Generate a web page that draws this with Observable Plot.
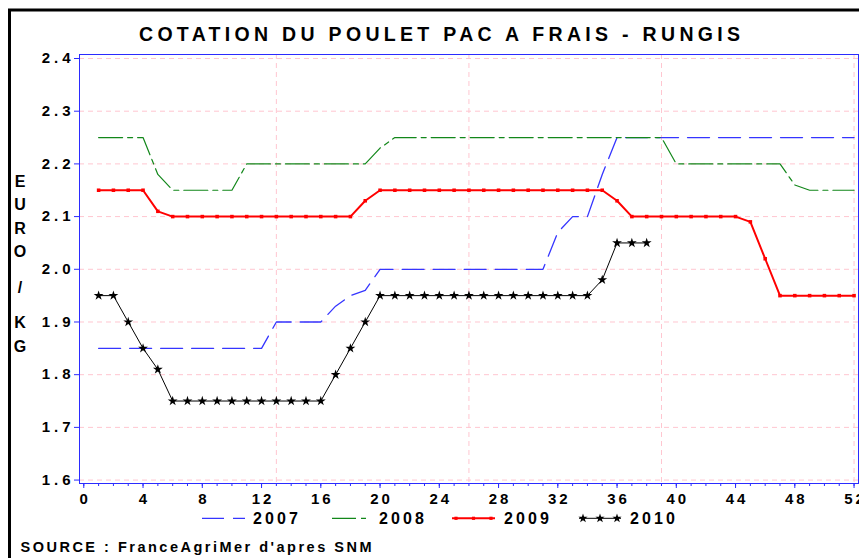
<!DOCTYPE html>
<html><head><meta charset="utf-8">
<script src="https://cdn.jsdelivr.net/npm/d3@7"></script>
<script src="https://cdn.jsdelivr.net/npm/@observablehq/plot@0.6"></script>
<style>
html,body{margin:0;padding:0;background:#fff;overflow:hidden}
#chart svg{display:block;overflow:hidden}
</style>
</head><body><div id="chart"></div>
<script>
// ---- text ----
const title = "COTATION DU POULET PAC A FRAIS - RUNGIS";
const yLabel = "EURO / KG";
const source = "SOURCE : FranceAgriMer d'apres SNM";

// ---- data ----
const years = ["2007", "2008", "2009", "2010"];
const y2007 = [1.85,1.85,1.85,1.85,1.85,1.85,1.85,1.85,1.85,1.85,1.85,1.85,
  1.90,1.90,1.90,1.90,1.93,1.95,1.96,
  2.00,2.00,2.00,2.00,2.00,2.00,2.00,2.00,2.00,2.00,2.00,2.00,
  2.07,2.10,2.10,2.18,
  2.25,2.25,2.25,2.25,2.25,2.25,2.25,2.25,2.25,2.25,2.25,2.25,2.25,2.25,2.25,2.25,2.25];
const y2008 = [2.25,2.25,2.25,2.25,2.18,
  2.15,2.15,2.15,2.15,2.15,
  2.20,2.20,2.20,2.20,2.20,2.20,2.20,2.20,2.20,2.23,
  2.25,2.25,2.25,2.25,2.25,2.25,2.25,2.25,2.25,2.25,2.25,2.25,2.25,2.25,2.25,2.25,2.25,2.25,2.25,
  2.20,2.20,2.20,2.20,2.20,2.20,2.20,2.20,2.16,
  2.15,2.15,2.15,2.15];
const y2009 = [2.15,2.15,2.15,2.15,2.11,
  2.10,2.10,2.10,2.10,2.10,2.10,2.10,2.10,2.10,2.10,2.10,2.10,2.10,2.13,
  2.15,2.15,2.15,2.15,2.15,2.15,2.15,2.15,2.15,2.15,2.15,2.15,2.15,2.15,2.15,2.15,
  2.13,2.10,2.10,2.10,2.10,2.10,2.10,2.10,2.10,2.09,2.02,
  1.95,1.95,1.95,1.95,1.95,1.95];
const y2010 = [1.95,1.95,1.90,1.85,1.81,
  1.75,1.75,1.75,1.75,1.75,1.75,1.75,1.75,1.75,1.75,1.75,
  1.80,1.85,1.90,
  1.95,1.95,1.95,1.95,1.95,1.95,1.95,1.95,1.95,1.95,1.95,1.95,1.95,1.95,1.95,
  1.98,2.05,2.05,2.05];
const yTicks = [1.6,1.7,1.8,1.9,2.0,2.1,2.2,2.3,2.4];
const xTicks = [0,4,8,12,16,20,24,28,32,36,40,44,48,52];
const xGrid = [13,26,39,52];

// ---- styles ----
const W = 859, H = 558;
const styleOf = {
  "2007": {stroke: "#3535ff", width: 1.3, dash: "22,9", dashLegendOffset: 0, symbol: null},
  "2008": {stroke: "#12871a", width: 1.2, dash: "24,5,5,5", dashLegendOffset: 34, symbol: null},
  "2009": {stroke: "#ff0000", width: 2, dash: null, symbol: "square", r: 2, legendR: 1.8},
  "2010": {stroke: "#000000", width: 1, dash: null, symbol: "star", r: 3.1, legendR: 2.9}
};
const blue = "#2b2bff";
const gridColor = "#ffc6d0";
const FONT = "'Liberation Sans', Arial, sans-serif";

const valuesOf = {"2007": y2007, "2008": y2008, "2009": y2009, "2010": y2010};
const rowsOf = {};
for (const yr of years) rowsOf[yr] = valuesOf[yr].map((v, i) => ({year: yr, week: i + 1, price: v}));

const minorTicks = d3.range(0, 53);

const marks = [
  Plot.gridY(yTicks, {stroke: gridColor, strokeOpacity: 1, strokeDasharray: "5,4"}),
  Plot.gridX(xGrid, {stroke: gridColor, strokeOpacity: 1, strokeDasharray: "5,4"}),
];
for (const yr of years) {
  const s = styleOf[yr];
  marks.push(Plot.line(rowsOf[yr], {x: "week", y: "price", stroke: s.stroke, strokeWidth: s.width,
    strokeDasharray: s.dash || undefined}));
  if (s.symbol) marks.push(Plot.dot(rowsOf[yr], {x: "week", y: "price", symbol: s.symbol, r: s.r, fill: s.stroke, stroke: "none"}));
}
marks.push(
  Plot.frame({stroke: blue}),
  Plot.axisY(yTicks, {tickSize: 5, stroke: blue, fill: "black", tickPadding: 4, tickFormat: d3.format(".1f"),
    fontSize: 15, fontWeight: "bold", label: null}),
  Plot.axisX(minorTicks, {tickSize: 3, stroke: blue, tickFormat: () => "", label: null}),
  Plot.axisX(xTicks, {tickSize: 5, stroke: blue, fill: "black", tickPadding: 5, tickFormat: d => String(d),
    fontSize: 15, fontWeight: "bold", label: null})
);

const chart = Plot.plot({
  width: W, height: H,
  marginLeft: 79, marginTop: 54, marginRight: 1, marginBottom: 75,
  x: {domain: [-0.29, 52.3]},
  y: {domain: [1.5935, 2.4076]},
  style: {fontFamily: FONT, background: "white", overflow: "hidden"},
  marks
});
document.getElementById("chart").appendChild(chart);

const svg = d3.select(chart);
// letter-spaced tick labels
svg.selectAll('[aria-label="y-axis tick label"] text').attr("letter-spacing", 4).attr("dx", 4);
svg.selectAll('[aria-label="x-axis tick label"] text').attr("letter-spacing", 3).attr("dx", 1.5);

// title
svg.append("text").attr("x", 439.5).attr("y", 40.7).attr("text-anchor", "middle")
  .attr("font-family", FONT).attr("font-weight", "bold").attr("font-size", 19.5)
  .attr("textLength", 601).attr("lengthAdjust", "spacing").text(title);

// vertical y label
{
  let yy = 186.7;
  for (const ch of yLabel) {
    if (ch === " ") { yy += 12; continue; }
    svg.append("text").attr("x", 20).attr("y", yy).attr("text-anchor", "middle")
      .attr("font-family", FONT).attr("font-weight", "bold").attr("font-size", 16).text(ch);
    yy += 23.5;
  }
}

// legend
const legendX = {"2007": [202, 245, 253], "2008": [327, 370, 379], "2009": [452, 495, 504], "2010": [579, 621, 630]};
const legendY = 518.3;
for (const yr of years) {
  const s = styleOf[yr];
  const [x0, x1, tx] = legendX[yr];
  const ln = svg.append("line").attr("x1", x0).attr("x2", x1).attr("y1", legendY).attr("y2", legendY)
    .attr("stroke", s.stroke).attr("stroke-width", s.width);
  if (s.dash) ln.attr("stroke-dasharray", s.dash).attr("stroke-dashoffset", s.dashLegendOffset);
  if (s.symbol) {
    const sym = s.symbol === "star" ? d3.symbolStar : d3.symbolSquare;
    const path = d3.symbol(sym, Math.PI * s.legendR * s.legendR)();
    for (const px of [x0 + 4, (x0 + x1) / 2, x1 - 4]) {
      svg.append("path").attr("d", path).attr("transform", `translate(${px},${legendY})`).attr("fill", s.stroke);
    }
  }
  svg.append("text").attr("x", tx).attr("y", 524).attr("text-anchor", "start").attr("font-family", FONT).attr("font-weight", "bold")
    .attr("font-size", 16).attr("textLength", 45).attr("lengthAdjust", "spacing").text(yr);
}

// source
svg.append("text").attr("x", 20.5).attr("y", 551.5).attr("text-anchor", "start").attr("font-family", FONT).attr("font-weight", "bold")
  .attr("font-size", 14.5).attr("textLength", 351).attr("lengthAdjust", "spacing").text(source);

// outer border
svg.append("rect").attr("x", 9.5).attr("y", 10).attr("width", 1000).attr("height", 700)
  .attr("fill", "none").attr("stroke", "black").attr("stroke-width", 3);
</script>
</body></html>
